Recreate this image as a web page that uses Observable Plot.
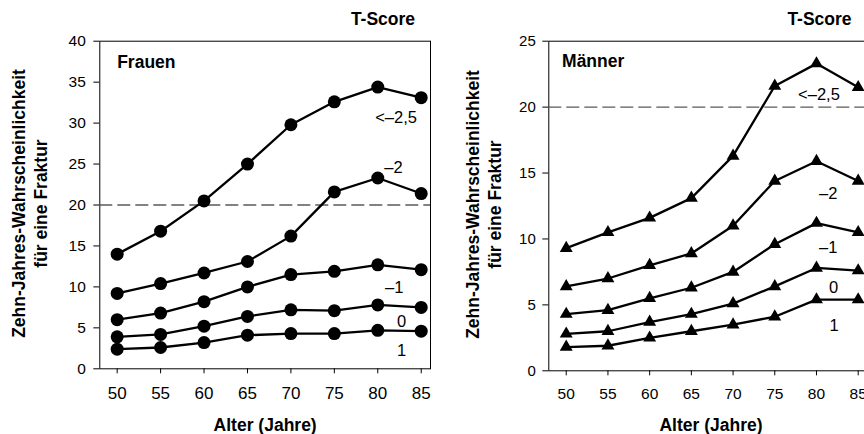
<!DOCTYPE html>
<html>
<head>
<meta charset="utf-8">
<script src="https://cdn.jsdelivr.net/npm/d3@7"></script>
<script src="https://cdn.jsdelivr.net/npm/@observablehq/plot@0.6"></script>
<style>
  html, body { margin: 0; padding: 0; background: white; }
  #wrap { position: relative; width: 864px; height: 434px; overflow: hidden; background: white; }
  #wrap > div { position: absolute; top: 0; width: 440px; height: 434px; }
  #wrap svg { max-width: none !important; }
</style>
</head>
<body>
<div id="wrap"><div id="left" style="left:0"></div><div id="right" style="left:440px"></div></div>
<script>
// Ages (x axis)
const ages = [50, 55, 60, 65, 70, 75, 80, 85];
// T-score series names
const tScores = ["<–2,5", "–2", "–1", "0", "1"];

// Frauen: ten-year fracture probability (%)
const frauenLt25 = [14.0, 16.8, 20.5, 25.0, 29.8, 32.6, 34.4, 33.1];
const frauenM2   = [9.2, 10.4, 11.7, 13.1, 16.2, 21.6, 23.3, 21.4];
const frauenM1   = [6.0, 6.8, 8.2, 10.0, 11.5, 11.9, 12.7, 12.1];
const frauen0    = [3.9, 4.2, 5.2, 6.4, 7.2, 7.1, 7.8, 7.5];
const frauen1    = [2.4, 2.6, 3.2, 4.1, 4.3, 4.3, 4.7, 4.6];

// Männer: ten-year fracture probability (%)
const maennerLt25 = [9.3, 10.5, 11.6, 13.1, 16.3, 21.6, 23.3, 21.5];
const maennerM2   = [6.4, 7.0, 8.0, 8.9, 11.0, 14.4, 15.9, 14.4];
const maennerM1   = [4.3, 4.6, 5.5, 6.3, 7.5, 9.6, 11.2, 10.5];
const maenner0    = [2.8, 3.0, 3.7, 4.3, 5.1, 6.4, 7.8, 7.6];
const maenner1    = [1.8, 1.9, 2.5, 3.0, 3.5, 4.1, 5.4, 5.4];

// Series label positions (age, probability)
const frauenLabelX = [82.1, 81.8, 81.9, 82.75, 82.75];
const frauenLabelY = [30.6, 24.5, 9.9, 5.8, 2.2];
const maennerLabelX = [80.3, 81.4, 81.4, 82.05, 82.1];
const maennerLabelY = [20.96, 13.45, 9.3, 6.3, 3.4];

// Tick values
const frauenYTicks = [0, 5, 10, 15, 20, 25, 30, 35, 40];
const maennerYTicks = [0, 5, 10, 15, 20, 25];

const threshold = 20;
const yTitle = "Zehn-Jahres-Wahrscheinlichkeit\nfür eine Fraktur";
const xTitle = "Alter (Jahre)";
const legendTitle = "T-Score";

function tidy(seriesList) {
  const rows = [];
  seriesList.forEach((arr, i) => ages.forEach((a, j) => rows.push({age: a, risk: arr[j], t: tScores[i]})));
  return rows;
}

const font = "'Liberation Sans', Arial, Helvetica, sans-serif";

function panel(o) {
  const data = tidy(o.series);
  return Plot.plot({
    width: o.width, height: 434,
    marginLeft: o.marginLeft, marginRight: o.marginRight,
    marginTop: 40.7, marginBottom: o.marginBottom,
    style: {fontFamily: font, background: "white", color: "black", overflow: "visible", maxWidth: "none"},
    x: {domain: o.xDomain},
    y: {domain: [0, o.yMax]},
    marks: [
      Plot.frame({stroke: "black", strokeWidth: 1}),
      Plot.axisY({ticks: o.yTicks, tickSize: 6, tickPadding: o.yPad, fontSize: o.yFont, label: null}),
      Plot.axisX({ticks: ages, tickSize: 5, tickPadding: o.xPad, fontSize: o.xFont, label: null}),
      Plot.ruleY([threshold], {stroke: "#5a5a5a", strokeWidth: 1.4, strokeDasharray: "13,5"}),
      Plot.line(data, {x: "age", y: "risk", z: "t", stroke: "black", strokeWidth: 2.3}),
      Plot.dot(data, {x: "age", y: "risk", fill: "black", stroke: "none", r: o.r, symbol: o.symbol}),
      Plot.text(tScores, {x: (d, i) => o.labelX[i], y: (d, i) => o.labelY[i], text: d => d, fontSize: 16.5, fill: "black"}),
      Plot.text([o.title], {x: () => o.titleX, y: () => o.titleY, text: d => d, textAnchor: "start", fontWeight: "bold", fontSize: 17.5, fill: "black"}),
      Plot.text([legendTitle], {x: () => o.tsX, y: () => o.tsY, text: d => d, fontWeight: "bold", fontSize: 17.5, fill: "black", clip: false}),
      Plot.text([xTitle], {frameAnchor: "bottom", textAnchor: "middle", lineAnchor: "middle", dy: o.xTitleDy, dx: o.xTitleDx, text: d => d, fontWeight: "bold", fontSize: 17.5, fill: "black"}),
      Plot.text([yTitle], {frameAnchor: "left", textAnchor: "middle", lineAnchor: "middle", dx: o.yTitleDx, dy: -1.5, rotate: -90, lineHeight: 1.25, text: d => d, fontWeight: "bold", fontSize: 17.5, fill: "black"})
    ]
  });
}

document.getElementById("left").appendChild(panel({
  series: [frauenLt25, frauenM2, frauenM1, frauen0, frauen1],
  labelX: frauenLabelX, labelY: frauenLabelY,
  width: 440, marginLeft: 99.3, marginRight: 10, marginBottom: 65.7,
  xDomain: [48, 86.07], yMax: 40, yTicks: frauenYTicks,
  yPad: 8, xPad: 13.5, yFont: 15.5, xFont: 17,
  symbol: "circle", r: 6.5,
  title: "Frauen", titleX: 50, titleY: 37.44,
  tsX: 80.6, tsY: 42.65,
  xTitleDy: 56.3, xTitleDx: 0, yTitleDx: -70.8
}));

document.getElementById("right").appendChild(panel({
  series: [maennerLt25, maennerM2, maennerM1, maenner0, maenner1],
  labelX: maennerLabelX, labelY: maennerLabelY,
  width: 440, marginLeft: 108.3, marginRight: 13.3, marginBottom: 63.7,
  xDomain: [47.91, 86.08], yMax: 25, yTicks: maennerYTicks,
  yPad: 7, xPad: 12, yFont: 15, xFont: 15.5,
  symbol: "triangle", r: 4.8,
  title: "Männer", titleX: 49.5, titleY: 23.47,
  tsX: 80.36, tsY: 26.65,
  xTitleDy: 54.3, xTitleDx: 3, yTitleDx: -65.9
}));
</script>
</body>
</html>
